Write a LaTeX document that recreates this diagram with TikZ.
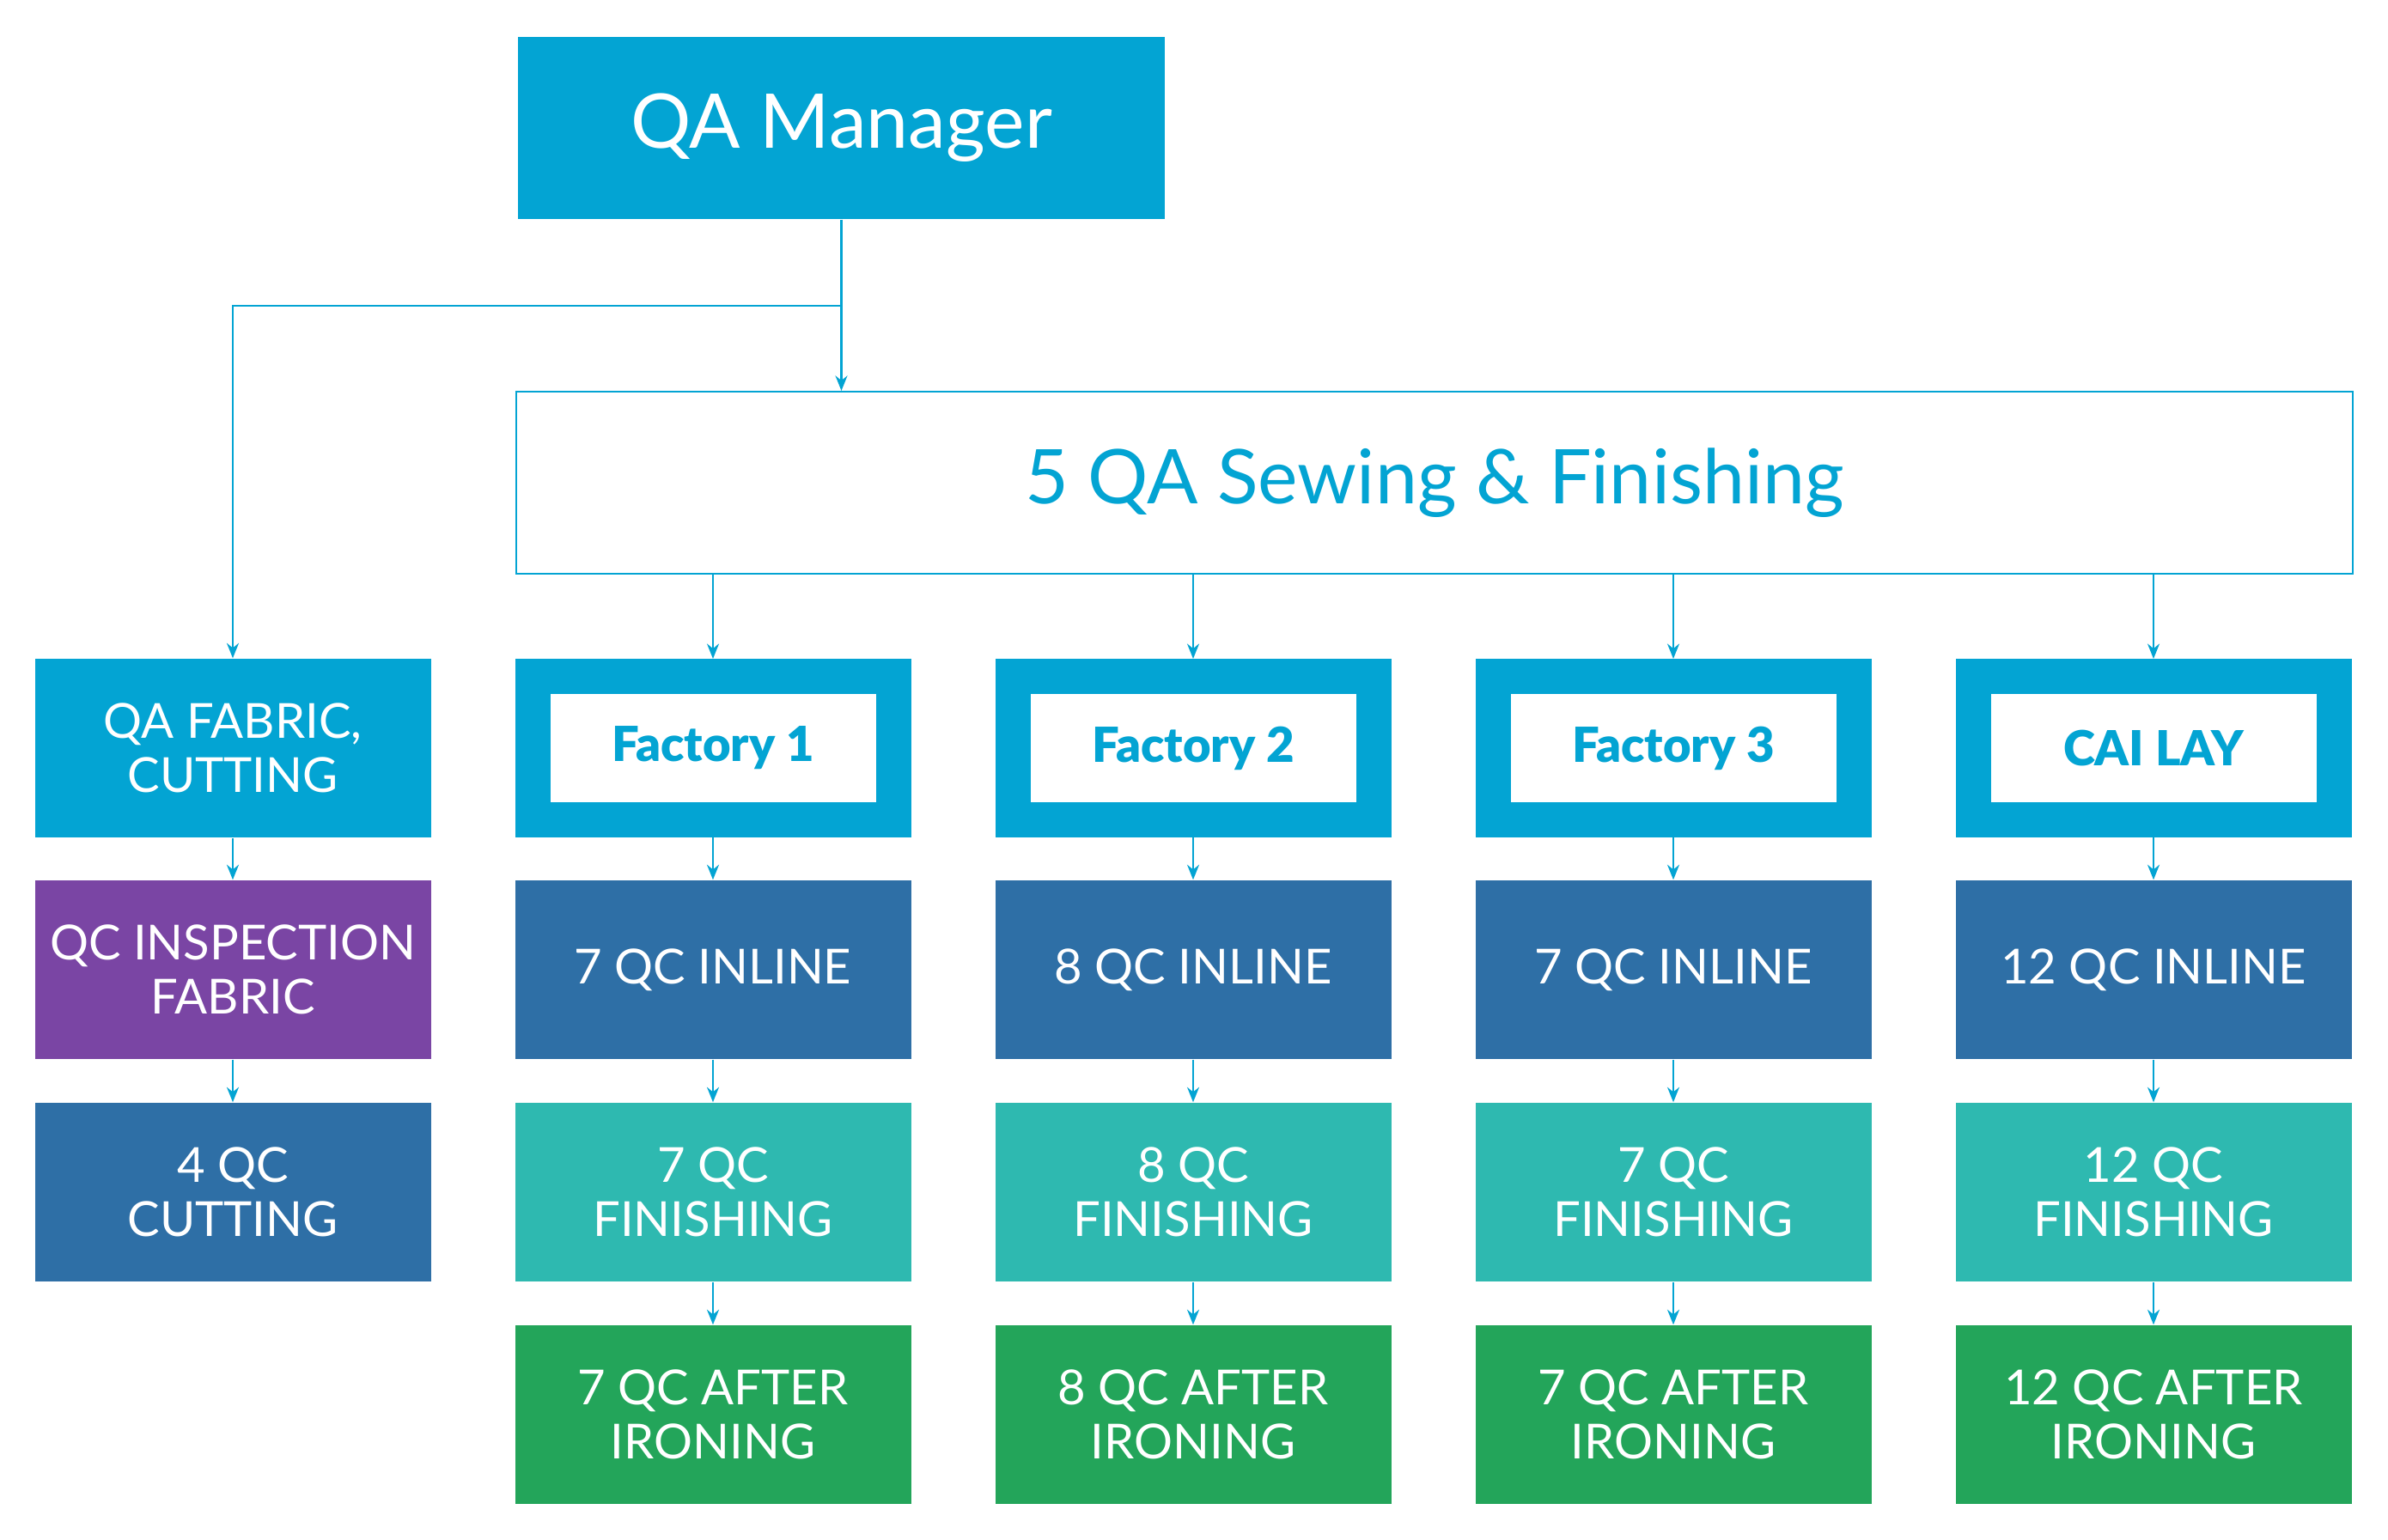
\documentclass[tikz,border=0pt]{standalone}
\usepackage{fontspec}
\setmainfont{Lato}
\newfontfamily\factoryfont{Lato Black}
\usepackage{tikz}
\usetikzlibrary{arrows.meta}
\definecolor{qablue}{HTML}{03A4D3}
\definecolor{inlineblue}{HTML}{2E6FA6}
\definecolor{inspectpurple}{HTML}{7A45A4}
\definecolor{finishteal}{HTML}{2EB9B0}
\definecolor{ironinggreen}{HTML}{23A55A}
\tikzset{
  >={Stealth[length=5pt,width=4pt]},
  link/.style={draw=qablue,line width=0.6pt,->},
  headbox/.style={fill=qablue,text=white,inner sep=0pt,minimum width=7.53cm,minimum height=2.12cm,
    font=\fontsize{25}{30}\selectfont},
  groupbox/.style={draw=qablue,line width=0.6pt,fill=white,text=qablue,inner sep=0pt,
    minimum width=21.38cm,minimum height=2.12cm,font=\fontsize{25}{30}\selectfont},
  qcbox/.style={text=white,align=center,inner sep=0pt,minimum width=4.61cm,minimum height=2.08cm,
    font=\fontsize{16}{18}\selectfont},
  fabricbox/.style={qcbox,fill=qablue},
  inspectbox/.style={qcbox,fill=inspectpurple},
  inlinebox/.style={qcbox,fill=inlineblue},
  finishbox/.style={qcbox,fill=finishteal},
  ironbox/.style={qcbox,fill=ironinggreen},
  factorybox/.style={draw=qablue,line width=0.41cm,fill=white,text=qablue,inner sep=0pt,
    minimum width=4.20cm,minimum height=1.67cm,font=\fontsize{16}{18}\factoryfont}
}

\begin{document}
\begin{tikzpicture}
  \useasboundingbox (0,0) rectangle (27.80,-17.93);
  \node[headbox]  (mgr) at ( 9.795,-1.49) {QA Manager};
  \node[groupbox] (sew) at (16.70,-5.62) {5 QA Sewing \& Finishing};
  \coordinate (split) at (9.795,-3.56);

  \node[fabricbox]  (fab)  at ( 2.71,-8.71)  {QA FABRIC,\\CUTTING};
  \node[inspectbox] (insp) at ( 2.71,-11.29) {QC INSPECTION\\FABRIC};
  \node[inlinebox]  (cut)  at ( 2.71,-13.88) {4 QC\\CUTTING};

  \node[factorybox] (fa) at ( 8.30,-8.71) {Factory 1};
  \node[factorybox] (fb) at (13.89,-8.71) {Factory 2};
  \node[factorybox] (fc) at (19.48,-8.71) {Factory 3};
  \node[factorybox] (fd) at (25.07,-8.71) {CAI LAY};

  \node[inlinebox] (ina) at ( 8.30,-11.29) {7 QC INLINE};
  \node[inlinebox] (inb) at (13.89,-11.29) {8 QC INLINE};
  \node[inlinebox] (inc) at (19.48,-11.29) {7 QC INLINE};
  \node[inlinebox] (ind) at (25.07,-11.29) {12 QC INLINE};

  \node[finishbox] (fia) at ( 8.30,-13.88) {7 QC\\FINISHING};
  \node[finishbox] (fib) at (13.89,-13.88) {8 QC\\FINISHING};
  \node[finishbox] (fic) at (19.48,-13.88) {7 QC\\FINISHING};
  \node[finishbox] (fid) at (25.07,-13.88) {12 QC\\FINISHING};

  \node[ironbox] (ira) at ( 8.30,-16.47) {7 QC AFTER\\IRONING};
  \node[ironbox] (irb) at (13.89,-16.47) {8 QC AFTER\\IRONING};
  \node[ironbox] (irc) at (19.48,-16.47) {7 QC AFTER\\IRONING};
  \node[ironbox] (ird) at (25.07,-16.47) {12 QC AFTER\\IRONING};

  \draw (mgr.south) -- (mgr.south |- sew.north) [link];
  \draw (split) -| (fab.north) [link];
  \draw (fab) -- (insp) [link];
  \draw (insp) -- (cut) [link];

  \draw (sew.south -| fa.north) -- (fa.north) [link];
  \draw (sew.south -| fb.north) -- (fb.north) [link];
  \draw (sew.south -| fc.north) -- (fc.north) [link];
  \draw (sew.south -| fd.north) -- (fd.north) [link];

  \draw (fa) -- (ina) [link];
  \draw (fb) -- (inb) [link];
  \draw (fc) -- (inc) [link];
  \draw (fd) -- (ind) [link];
  \draw (ina) -- (fia) [link];
  \draw (inb) -- (fib) [link];
  \draw (inc) -- (fic) [link];
  \draw (ind) -- (fid) [link];
  \draw (fia) -- (ira) [link];
  \draw (fib) -- (irb) [link];
  \draw (fic) -- (irc) [link];
  \draw (fid) -- (ird) [link];
\end{tikzpicture}
\end{document}
